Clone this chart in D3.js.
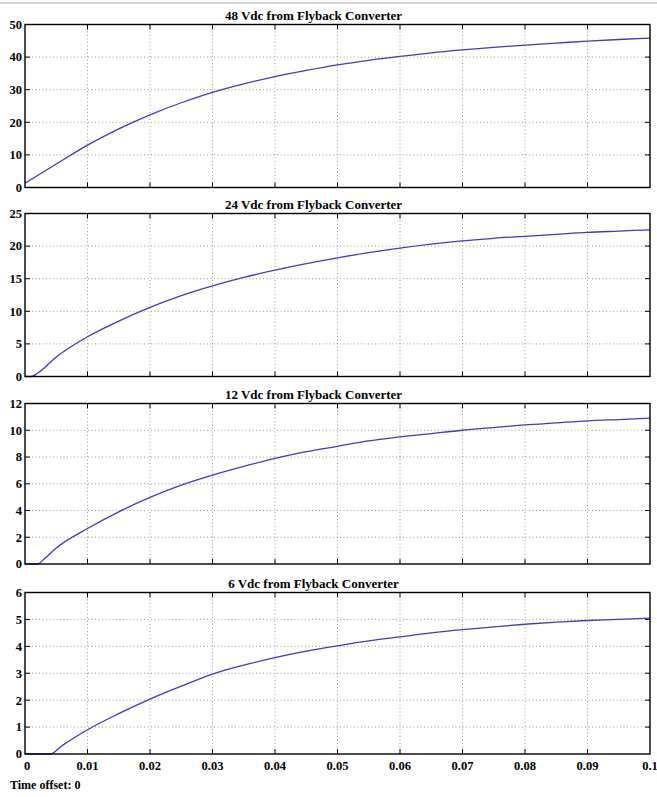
<!DOCTYPE html>
<html><head><meta charset="utf-8">
<script src="https://cdn.jsdelivr.net/npm/d3@7"></script>
<style>body{margin:0;background:#fff}svg{display:block}</style>
</head><body>
<script>
const t48 = [0,0.005,0.01,0.015,0.02,0.025,0.03,0.035,0.04,0.045,0.05,0.055,0.06,0.065,0.07,0.075,0.08,0.085,0.09,0.095,0.1];
const v48 = [1.3,7.2,13.0,18.0,22.3,26.0,29.2,31.8,34.0,35.9,37.6,39.0,40.2,41.3,42.2,43.0,43.7,44.3,44.9,45.4,45.8];
const t24 = [0,0.001,0.002,0.005,0.01,0.015,0.02,0.025,0.03,0.035,0.04,0.045,0.05,0.055,0.06,0.065,0.07,0.075,0.08,0.085,0.09,0.095,0.1];
const v24 = [0,0,0.5,3.0,6.1,8.5,10.6,12.4,13.9,15.2,16.3,17.3,18.2,19.0,19.7,20.3,20.8,21.2,21.5,21.8,22.1,22.3,22.5];
const t12 = [0,0.002,0.003,0.005,0.01,0.015,0.02,0.025,0.03,0.035,0.04,0.045,0.05,0.055,0.06,0.065,0.07,0.075,0.08,0.085,0.09,0.095,0.1];
const v12 = [0,0,0.35,1.2,2.65,3.9,4.98,5.9,6.65,7.3,7.9,8.4,8.8,9.2,9.5,9.75,10.0,10.2,10.4,10.55,10.7,10.8,10.9];
const t6  = [0,0.004,0.006,0.008,0.01,0.015,0.02,0.025,0.03,0.035,0.04,0.045,0.05,0.055,0.06,0.065,0.07,0.075,0.08,0.085,0.09,0.095,0.1];
const v6  = [0,0,0.32,0.62,0.9,1.5,2.04,2.52,2.97,3.3,3.58,3.82,4.02,4.2,4.35,4.5,4.62,4.72,4.82,4.9,4.96,5.0,5.05];
const titles = ["48 Vdc from Flyback Converter","24 Vdc from Flyback Converter","12 Vdc from Flyback Converter","6 Vdc from Flyback Converter"];
const yMax = [50,25,12,6];
const yTicks = [[0,10,20,30,40,50],[0,5,10,15,20,25],[0,2,4,6,8,10,12],[0,1,2,3,4,5,6]];
const xTicks = [0,0.01,0.02,0.03,0.04,0.05,0.06,0.07,0.08,0.09,0.1];
const xTickLabels = ["0","0.01","0.02","0.03","0.04","0.05","0.06","0.07","0.08","0.09","0.1"];
const seriesT = [t48,t24,t12,t6];
const seriesV = [v48,v24,v12,v6];
const footer = "Time offset: 0";

const W=657,H=797;
const svg=d3.select("body").append("svg").attr("width",W).attr("height",H);
svg.append("line").attr("x1",0).attr("x2",W).attr("y1",3).attr("y2",3).attr("stroke","#c8c8c8").attr("stroke-width",1.5);

const left=25,right=650;
const panels=[{top:24.5,bottom:187.5},{top:213.5,bottom:376.5},{top:403.5,bottom:564},{top:592.5,bottom:754}];
const x=d3.scaleLinear().domain([0,0.1]).range([left,right]);
const font="'Liberation Serif','Times New Roman',serif";

panels.forEach((p,i)=>{
  const y=d3.scaleLinear().domain([0,yMax[i]]).range([p.bottom,p.top]);
  const g=svg.append("g");
  g.append("g").selectAll("line").data(xTicks.slice(1,-1)).join("line")
    .attr("x1",d=>x(d)).attr("x2",d=>x(d)).attr("y1",p.top).attr("y2",p.bottom)
    .attr("stroke","#9a9a9a").attr("stroke-width",1).attr("stroke-dasharray","1,2.5");
  g.append("g").selectAll("line").data(yTicks[i].slice(1,-1)).join("line")
    .attr("y1",d=>y(d)).attr("y2",d=>y(d)).attr("x1",left).attr("x2",right)
    .attr("stroke","#9a9a9a").attr("stroke-width",1).attr("stroke-dasharray","1,2.5");
  const tl=5;
  const tk=g.append("g").attr("stroke","#000").attr("stroke-width",1);
  xTicks.slice(1,-1).forEach(d=>{
    tk.append("line").attr("x1",x(d)).attr("x2",x(d)).attr("y1",p.bottom).attr("y2",p.bottom-tl);
    tk.append("line").attr("x1",x(d)).attr("x2",x(d)).attr("y1",p.top).attr("y2",p.top+tl);
  });
  yTicks[i].slice(1,-1).forEach(d=>{
    tk.append("line").attr("y1",y(d)).attr("y2",y(d)).attr("x1",left).attr("x2",left+tl);
    tk.append("line").attr("y1",y(d)).attr("y2",y(d)).attr("x1",right).attr("x2",right-tl);
  });
  const ts=seriesT[i];
  const line=d3.line().x((d,k)=>x(ts[k])).y(d=>y(d)).curve(d3.curveMonotoneX);
  g.append("path").datum(seriesV[i]).attr("d",line).attr("fill","none")
    .attr("stroke","#3d3db3").attr("stroke-width",1.3);
  g.append("rect").attr("x",left).attr("y",p.top).attr("width",right-left).attr("height",p.bottom-p.top)
    .attr("fill","none").attr("stroke","#000").attr("stroke-width",1.4);
  g.append("g").selectAll("text").data(yTicks[i]).join("text")
    .attr("x",left-3).attr("y",d=>y(d)).attr("dy","0.35em").attr("text-anchor","end")
    .attr("font-family",font).attr("font-weight","bold").attr("font-size",12.5).text(d=>d);
  g.append("text").attr("x",(left+right)/2 - 24).attr("y",p.top-5).attr("text-anchor","middle")
    .attr("font-family",font).attr("font-weight","bold").attr("font-size",13).text(titles[i]);
  if(i===3){
    g.append("g").selectAll("text").data(xTicks).join("text")
      .attr("x",(d)=>x(d)+(d===0?2:0)).attr("y",p.bottom+16).attr("text-anchor","middle")
      .attr("font-family",font).attr("font-weight","bold").attr("font-size",12.5)
      .text((d,k)=>xTickLabels[k]);
  }
});
svg.append("text").attr("x",10).attr("y",789).attr("font-family",font).attr("font-weight","bold")
  .attr("font-size",12).text(footer);
</script>
</body></html>
